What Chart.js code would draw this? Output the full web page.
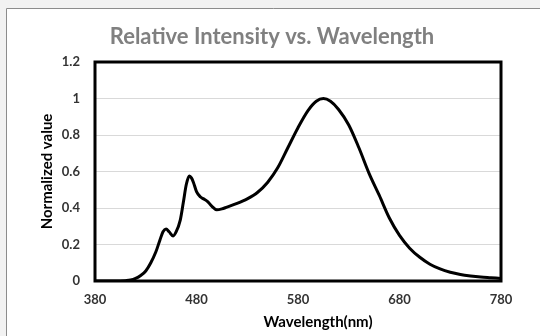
<!DOCTYPE html>
<html>
<head>
<meta charset="utf-8">
<script src="https://cdn.jsdelivr.net/npm/chart.js@4.4.1/dist/chart.umd.min.js"></script>
<style>
  html, body { margin: 0; padding: 0; background: #f2f2f2; }
  canvas { display: block; }
</style>
</head>
<body>
<canvas id="spectrum" width="540" height="336"></canvas>
<script>
// wavelength (nm) and normalized intensity
const wavelengths = [380, 400, 410, 415, 420, 425, 430, 435, 440, 444, 447, 450, 453, 457, 460, 464, 467, 470, 473, 475, 477, 480, 484, 487, 491, 495, 500, 505, 510, 520, 530, 540, 550, 560, 570, 580, 590, 598, 605, 612, 620, 630, 640, 650, 660, 670, 680, 690, 700, 710, 720, 730, 740, 750, 760, 770, 780];
const intensity = [0, 0, 0.002, 0.005, 0.014, 0.03, 0.055, 0.1, 0.16, 0.225, 0.27, 0.285, 0.27, 0.247, 0.27, 0.334, 0.43, 0.53, 0.575, 0.565, 0.54, 0.49, 0.46, 0.45, 0.435, 0.41, 0.39, 0.395, 0.405, 0.425, 0.45, 0.485, 0.54, 0.62, 0.73, 0.84, 0.935, 0.985, 1.0, 0.985, 0.94, 0.855, 0.73, 0.59, 0.47, 0.345, 0.25, 0.18, 0.13, 0.092, 0.066, 0.048, 0.036, 0.028, 0.022, 0.018, 0.014];

const xTicks = [380, 480, 580, 680, 780];
const yTicks = [0, 0.2, 0.4, 0.6, 0.8, 1, 1.2];
const yTickLabels = ['0', '0.2', '0.4', '0.6', '0.8', '1', '1.2'];

const chartTitle = 'Relative Intensity vs. Wavelength';
const xTitle = 'Wavelength(nm)';
const yTitle = 'Normalized value';

const FONT = 'Lato, "Open Sans", sans-serif';

// page frame, plot border and the two titles Excel puts off-centre
const framePlugin = {
    id: 'framePlugin',
    beforeDraw(chart) {
        const ctx = chart.ctx;
        ctx.save();
        ctx.fillStyle = '#f2f2f2';
        ctx.fillRect(0, 0, chart.width, chart.height);
        ctx.fillStyle = '#ffffff';
        ctx.fillRect(6, 8, chart.width, chart.height);
        ctx.strokeStyle = '#8c8c8c';
        ctx.lineWidth = 1;
        ctx.beginPath();
        ctx.moveTo(6.5, chart.height);
        ctx.lineTo(6.5, 8.5);
        ctx.lineTo(chart.width, 8.5);
        ctx.stroke();
        ctx.restore();
    },
    afterDraw(chart) {
        const ctx = chart.ctx;
        const area = chart.chartArea;
        ctx.save();
        ctx.strokeStyle = '#000000';
        ctx.lineWidth = 3;
        ctx.strokeRect(area.left, area.top, area.right - area.left, area.bottom - area.top);

        ctx.textAlign = 'center';
        ctx.textBaseline = 'middle';
        ctx.fillStyle = '#808080';
        ctx.font = 'bold 22px ' + FONT;
        ctx.fillText(chartTitle, 272, 37);

        ctx.fillStyle = '#000000';
        ctx.font = 'bold 15px ' + FONT;
        ctx.fillText(xTitle, (area.left + area.right) / 2 + 20, 322);
        ctx.restore();
    }
};

const ctx = document.getElementById('spectrum').getContext('2d');
const chart = new Chart(ctx, {
    type: 'line',
    data: {
        datasets: [{
            data: wavelengths.map((w, i) => ({ x: w, y: intensity[i] })),
            borderColor: '#000000',
            borderWidth: 3,
            pointRadius: 0,
            fill: false,
            cubicInterpolationMode: 'monotone'
        }]
    },
    options: {
        responsive: false,
        animation: false,
        devicePixelRatio: 1,
        layout: {
            padding: { top: 62, right: 39, bottom: 0, left: 0 }
        },
        plugins: {
            legend: { display: false },
            tooltip: { enabled: false }
        },
        scales: {
            x: {
                type: 'linear',
                min: 380,
                max: 780,
                afterFit: scale => { scale.height = 55; },
                afterBuildTicks: scale => { scale.ticks = xTicks.map(v => ({ value: v })); },
                grid: { display: false, drawTicks: false },
                border: { display: false },
                ticks: {
                    padding: 11,
                    maxRotation: 0,
                    color: '#333333',
                    font: { family: FONT, size: 13, weight: 'bold' }
                }
            },
            y: {
                min: 0,
                max: 1.2,
                afterFit: scale => { scale.width = 95; },
                afterBuildTicks: scale => { scale.ticks = yTicks.map(v => ({ value: v })); },
                grid: { color: '#d9d9d9', lineWidth: 1, drawTicks: false },
                border: { display: false },
                ticks: {
                    padding: 15,
                    color: '#333333',
                    font: { family: FONT, size: 13, weight: 'bold' },
                    callback: (value, index) => yTickLabels[index]
                },
                title: {
                    display: true,
                    text: yTitle,
                    color: '#000000',
                    padding: { top: 38, bottom: 0 },
                    font: { family: FONT, size: 15, weight: 'bold' }
                }
            }
        }
    },
    plugins: [framePlugin]
});
</script>
</body>
</html>
